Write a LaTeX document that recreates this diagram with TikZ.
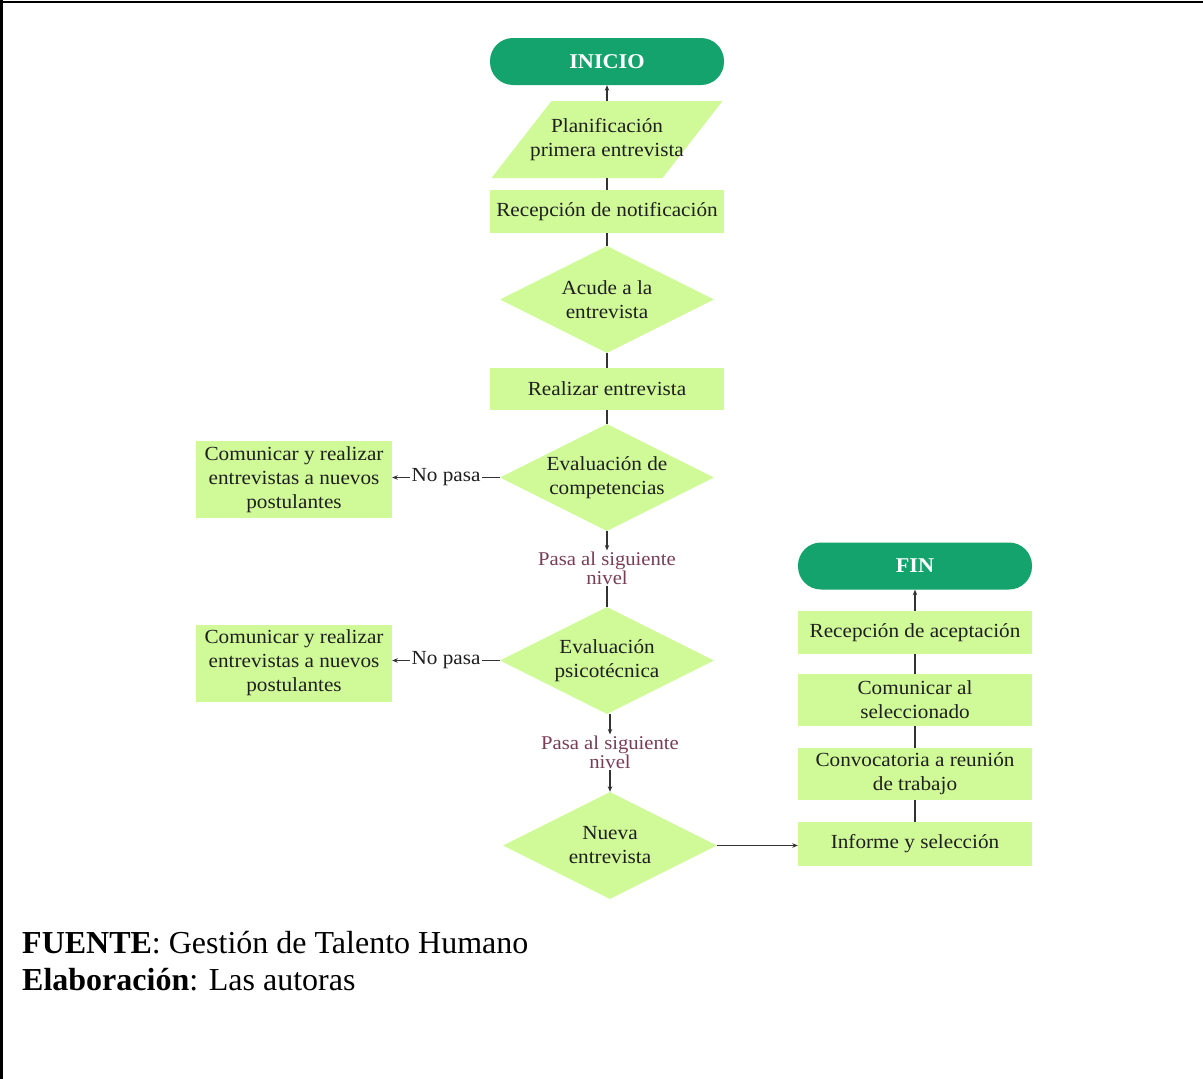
\documentclass[tikz,border=0pt]{standalone}
\usepackage{fontspec}
\setmainfont{Liberation Serif}
\newfontfamily\nodefont[FakeStretch=1.06]{Liberation Serif}
\usetikzlibrary{shapes.geometric,arrows.meta,calc}
\definecolor{lgreen}{RGB}{208,250,152}
\definecolor{dgreen}{RGB}{20,163,108}
\definecolor{lblcol}{RGB}{120,62,86}
\begin{document}
\begin{tikzpicture}[x=1pt,y=-1pt,
  txt/.style={font=\nodefont\fontsize{20}{24}\selectfont, text=black!88, align=center},
  box/.style={txt, fill=lgreen, minimum width=234, inner sep=0},
  sidebox/.style={box, minimum width=196, minimum height=77},
  pill/.style={fill=dgreen, rounded corners=23, minimum width=234, minimum height=47, inner sep=0,
    text=white, font=\nodefont\fontsize{21}{24}\selectfont\bfseries},
  dia/.style={diamond, fill=lgreen, minimum width=214, minimum height=107, inner sep=0},
  diatext/.style={txt, inner sep=0},
  parall/.style={txt, minimum width=231, minimum height=77, inner sep=0,
    path picture={\fill[lgreen] ([xshift=60pt]path picture bounding box.north west) --
      (path picture bounding box.north east) --
      ([xshift=-60pt]path picture bounding box.south east) --
      (path picture bounding box.south west) -- cycle;}},
  lbl/.style={font=\nodefont\fontsize{19.5}{19}\selectfont, text=lblcol, align=center, inner sep=1},
  nopasa/.style={font=\nodefont\fontsize{20}{24}\selectfont, text=black!88, fill=white, inner xsep=2, inner ysep=0},
  conn/.style={draw=black!80, line width=1.1pt},
  arr/.style={conn, -{Stealth[length=5.5pt,width=4.5pt]}},
  note/.style={anchor=base west, inner sep=0, font=\fontsize{32}{37}\selectfont}
]
\useasboundingbox (0,0) rectangle (1203,1079);
\fill[white] (0,0) rectangle (1203,1079);
% frame
\draw[line width=2.2pt] (0,1.8) -- (1203,1.8);
\draw[line width=2.2pt] (1.5,0) -- (1.5,1079);

% main column
\node[pill] (inicio) at (607,61.5) {INICIO};
\node[parall] (plan) at (607,139.5) {Planificación\\primera entrevista};
\node[box, minimum height=43] (rn) at (607,211.5) {Recepción de notificación};
\node[dia, label={[diatext]center:{Acude a la\\entrevista}}] (d1) at (607,299.5) {};
\node[box, minimum height=42] (re) at (607,389) {Realizar entrevista};
\node[dia, label={[diatext]center:{Evaluación de\\competencias}}] (d2) at (607,477.5) {};
\node[sidebox] (c1) at (294,479.5) {Comunicar y realizar\\entrevistas a nuevos\\postulantes};
\node[lbl] (p1) at (607,568) {Pasa al siguiente\\nivel};
\node[dia, label={[diatext]center:{Evaluación\\psicotécnica}}] (d3) at (607,660.5) {};
\node[sidebox] (c2) at (294,663) {Comunicar y realizar\\entrevistas a nuevos\\postulantes};
\node[lbl] (p2) at (610,752) {Pasa al siguiente\\nivel};
\node[dia, label={[diatext]center:{Nueva\\entrevista}}] (d4) at (610,845.5) {};

% right column
\node[pill] (fin) at (915,566) {FIN};
\node[box, minimum height=43] (ra) at (915,632.5) {Recepción de aceptación};
\node[box, minimum height=52] (cs) at (915,700) {Comunicar al\\seleccionado};
\node[box, minimum height=52] (cr) at (915,774) {Convocatoria a reunión\\de trabajo};
\node[box, minimum height=44] (is) at (915,844) {Informe y selección};

% connectors main column
\draw[arr] (plan.north) -- (inicio.south);
\draw[conn] (plan.south) -- (rn.north);
\draw[conn] (rn.south) -- (d1.north);
\draw[conn] (d1.south) -- (re.north);
\draw[conn] (re.south) -- (d2.north);
\draw[arr] (d2.west) -- node[nopasa] (np1) {No pasa} (d2.west -| c1.east);
\draw[arr] (d2.south) -- (p1.north);
\draw[conn] (p1.south) -- (d3.north);
\draw[arr] (d3.west) -- node[nopasa] (np2) {No pasa} (d3.west -| c2.east);
\draw[arr] (p2.north |- d3.south) -- (p2.north);
\draw[arr] (p2.south) -- (d4.north);
\draw[arr] (d4.east) -- (d4.east -| is.west);

% connectors right column
\draw[conn] (is.north) -- (cr.south);
\draw[conn] (cr.north) -- (cs.south);
\draw[conn] (cs.north) -- (ra.south);
\draw[arr] (ra.north) -- (fin.south);

% notes
\node[note] (fuente) at (22,953) {\textbf{FUENTE}: Gestión de Talento Humano};
\node[note] (elab) at (22,990) {\textbf{Elaboración}: Las autoras};
\end{tikzpicture}
\end{document}
